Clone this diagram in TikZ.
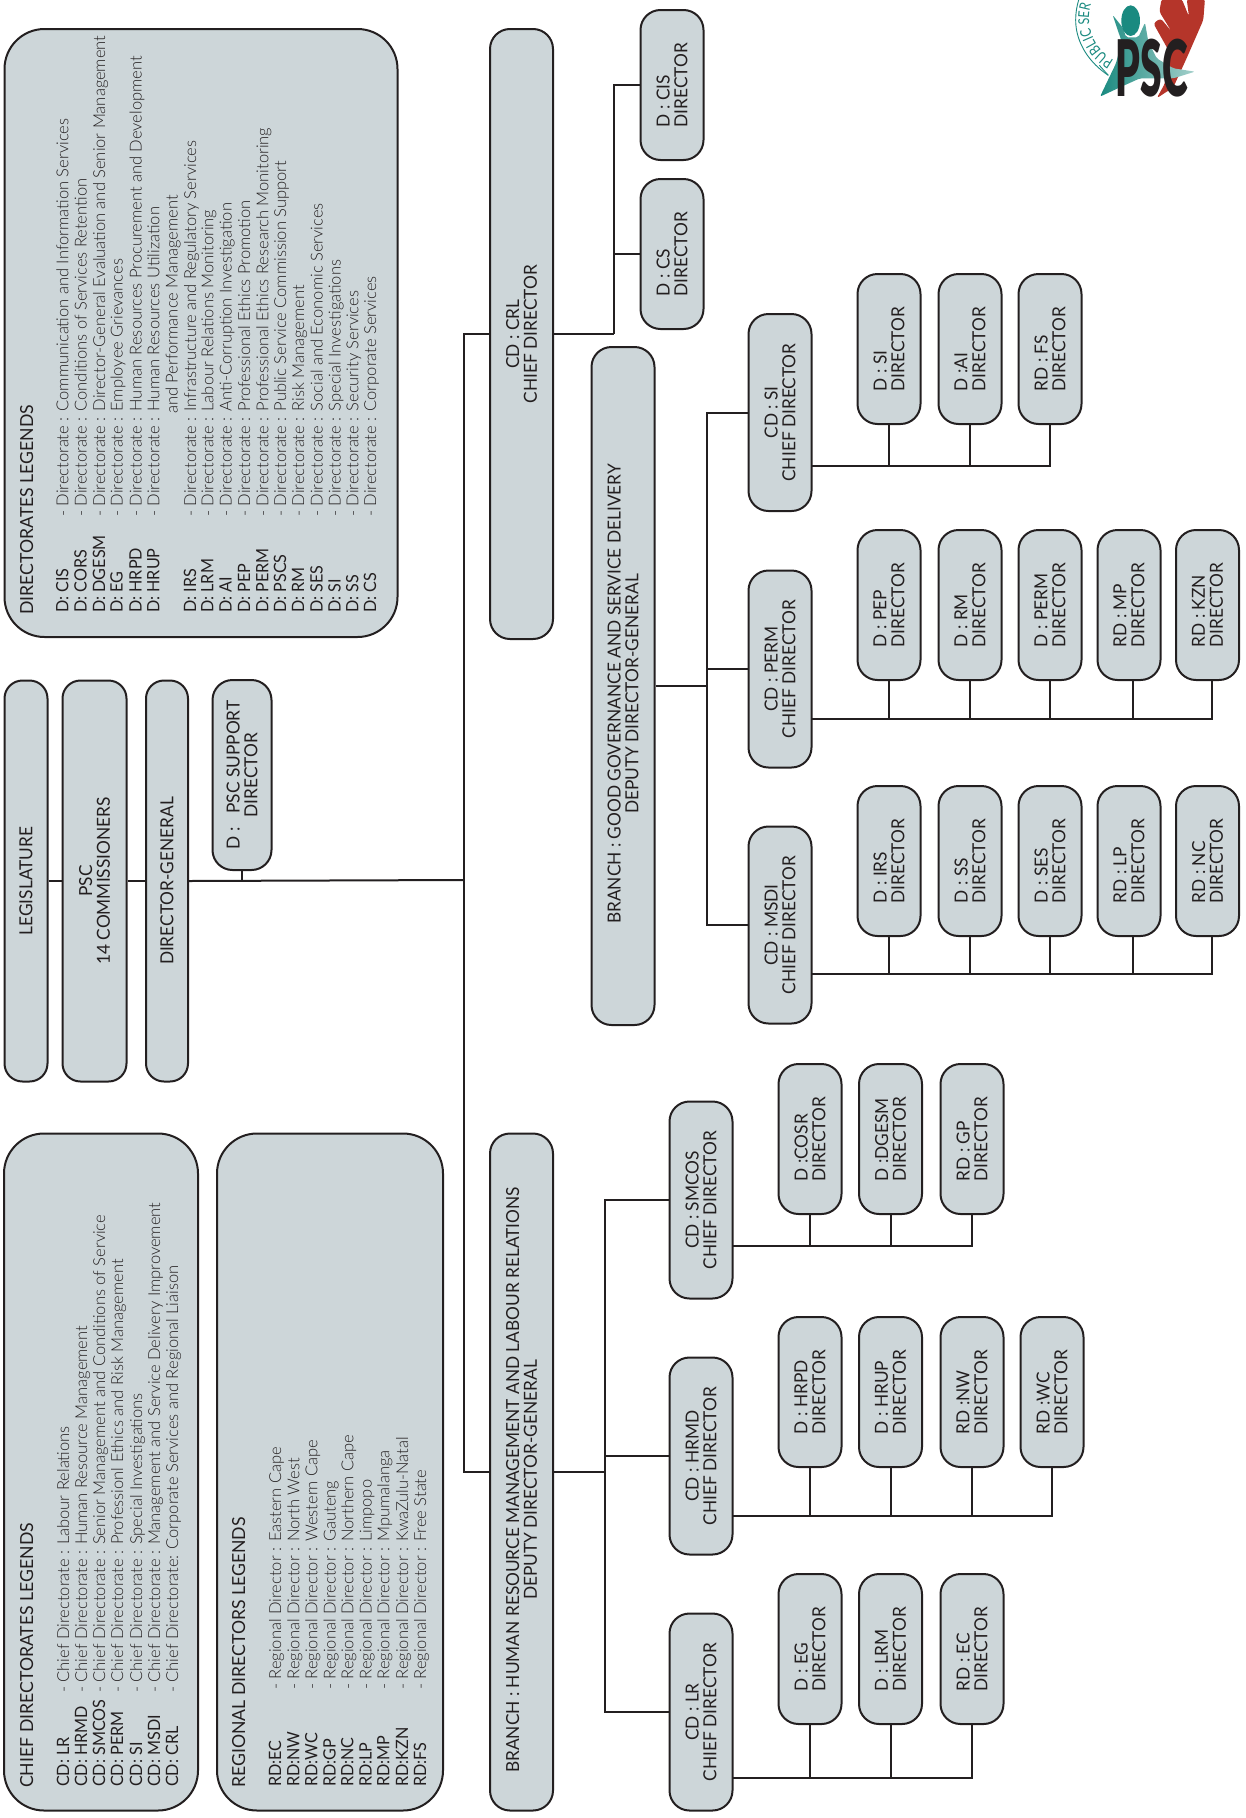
\documentclass[tikz,border=0pt]{standalone}
\usepackage{fontspec}
\usepackage{xcolor}
\usetikzlibrary{decorations.text}
\newfontfamily\boxface[FakeStretch=0.96]{Lato}
\newfontfamily\legface{Lato Light}
\newfontfamily\abface[FakeStretch=0.95]{Lato}
\newfontfamily\headface[FakeStretch=0.98]{Lato}
\newfontfamily\arcface[FakeStretch=0.8]{Lato}
\newfontfamily\logoface[FakeStretch=0.5]{Lato Black}
\definecolor{pgray}{HTML}{CDD6D9}
\definecolor{pline}{HTML}{231F20}
\definecolor{pteal}{HTML}{1A8A80}
\definecolor{ptealp}{HTML}{A5D0CB}
\definecolor{pred}{HTML}{B5352A}
\tikzset{
  % rotated boxes: minimum width runs along the text
  blk/.style    = {rectangle, draw=pline, fill=pgray, line width=2pt, rotate=90,
                   align=center, inner sep=0pt, text=pline,
                   font=\boxface\fontsize{18}{17.8}\selectfont},
  topbox/.style = {blk, rounded corners=18pt, minimum width=401pt, minimum height=#1},
  dirbox/.style = {blk, align=left, rounded corners=20pt, minimum width=150pt, minimum height=63pt},
  cdbox/.style  = {blk, rounded corners=20pt, minimum width=197pt, minimum height=63pt},
  brbox/.style  = {blk, rounded corners=20pt, minimum height=63pt},
  legbox/.style = {blk, rounded corners=40pt},
  leghd/.style  = {rotate=90, anchor=base west, inner sep=0pt, text=pline,
                   font=\headface\fontsize{18}{18}\selectfont},
  legab/.style  = {leghd, font=\abface\fontsize{17}{17}\selectfont},
  legtx/.style  = {rotate=90, anchor=base west, inner sep=0pt, text=pline,
                   font=\legface\fontsize{16.5}{17}\selectfont},
  conn/.style   = {draw=pline, line width=2pt},
}
\begin{document}
\begin{tikzpicture}[x=1pt,y=-1pt]
\useasboundingbox (0,0) rectangle (1246,1818);
% top of the chain
\node[topbox=43pt] (leg) at (26,881) {LEGISLATURE};
\node[topbox=64pt] (psc) at (94.5,881) {PSC\\14 COMMISSIONERS};
\node[topbox=42pt] (dg) at (167,881) {DIRECTOR-GENERAL};
\node[blk, rounded corners=20pt, minimum width=190pt, minimum height=59pt] (sup) at (242,775)
  {D :\hspace{14pt}PSC SUPPORT\\DIRECTOR};
\coordinate (trunk) at (463.5,880);
\draw[conn] (leg.south) -- (psc.north);
\draw[conn] (psc.south) -- (dg.north);
\draw[conn] (dg.south) -- (trunk);
\draw[conn] (sup.west) -- (sup.west |- trunk);
% branches
\node[brbox, minimum width=610pt] (crl) at (521.5,334) {CD : CRL\\CHIEF DIRECTOR};
\node[brbox, minimum width=678pt] (gg) at (623,686)
  {BRANCH : GOOD GOVERNANCE AND SERVICE DELIVERY\hspace*{16pt}\\DEPUTY DIRECTOR-GENERAL\hspace*{16pt}};
\node[brbox, minimum width=677pt] (hr) at (521.5,1472)
  {BRANCH : HUMAN RESOURCE MANAGEMENT AND LABOUR RELATIONS\hspace*{16pt}\\DEPUTY DIRECTOR-GENERAL\hspace*{16pt}};
\draw[conn] (crl.north) -| (trunk);
\draw[conn] (hr.north) -| (trunk);
% chief directors
\foreach \nm/\lbl/\xx/\yy in {cdsi/SI/780/412.5, cdperm/PERM/780/669, cdmsdi/MSDI/780/925,
    cdsmcos/SMCOS/701/1200, cdhrmd/HRMD/701/1456, cdlr/LR/701/1712}
  {\node[cdbox] (\nm) at (\xx,\yy) {CD : \lbl\\CHIEF DIRECTOR};}
% directors
\foreach \nm/\lbl/\xx/\yy in {dcis/D : CIS/672/85, dcs/D : CS/672/254,
    dsi/D : SI/889/349, dai/D :AI/970/349, rdfs/RD : FS/1050/349,
    dpep/D : PEP/889/605, drm/D : RM/970/605, dperm/D : PERM/1050/605, rdmp/RD : MP/1129/605, rdkzn/RD : KZN/1207.5/605,
    dirs/D : IRS/889/861, dss/D : SS/970/861, dses/D : SES/1050/861, rdlp/RD : LP/1129/861, rdnc/RD : NC/1207.5/861,
    dcosr/D :COSR/810/1139, ddgesm/D :DGESM/890.5/1139, rdgp/RD : GP/972/1139,
    dhrpd/D : HRPD/810/1392, dhrup/D : HRUP/890.5/1392, rdnw/RD :NW/972/1392, rdwc/RD :WC/1052/1392,
    deg/D : EG/810/1649, dlrm/D : LRM/890.5/1649, rdec/RD : EC/972/1649}
  {\node[dirbox] (\nm) at (\xx,\yy) {\lbl\\DIRECTOR};}
% spines
\coordinate (crlspine) at (614,334);
\coordinate (ggspine) at (707,686);
\coordinate (hrspine) at (605,1472);
\draw[conn] (crl.south) -- (crlspine);
\draw[conn] (gg.south) -- (ggspine);
\draw[conn] (hr.south) -- (hrspine);
\foreach \nm in {dcis,dcs} {\draw[conn] (\nm.north) -| (crlspine);}
\foreach \nm in {cdsi,cdperm,cdmsdi} {\draw[conn] (\nm.north) -| (ggspine);}
\foreach \nm in {cdsmcos,cdhrmd,cdlr} {\draw[conn] (\nm.north) -| (hrspine);}
% buses under the directors
\coordinate (sibus) at (811,465.7);
\coordinate (permbus) at (811,719);
\coordinate (msdibus) at (811,974);
\coordinate (smbus) at (732,1246);
\coordinate (hrmbus) at (732,1516);
\coordinate (lrbus) at (732,1778);
\draw[conn] (sibus) -| (rdfs.west);
\draw[conn] (permbus) -| ([xshift=4.5pt]rdkzn.west);
\draw[conn] (msdibus) -| ([xshift=4.5pt]rdnc.west);
\draw[conn] (smbus) -| (rdgp.west);
\draw[conn] (hrmbus) -| (rdwc.west);
\draw[conn] (lrbus) -| (rdec.west);
\draw[conn] ([xshift=4pt]rdmp.west) -- ([xshift=4pt]rdmp.west |- permbus);
\draw[conn] ([xshift=4pt]rdlp.west) -- ([xshift=4pt]rdlp.west |- msdibus);
\foreach \nm in {dsi,dai} {\draw[conn] (\nm.west) -- (\nm.west |- sibus);}
\foreach \nm in {dpep,drm,dperm} {\draw[conn] (\nm.west) -- (\nm.west |- permbus);}
\foreach \nm in {dirs,dss,dses} {\draw[conn] (\nm.west) -- (\nm.west |- msdibus);}
\foreach \nm in {dcosr,ddgesm} {\draw[conn] (\nm.west) -- (\nm.west |- smbus);}
\foreach \nm in {dhrpd,dhrup,rdnw} {\draw[conn] (\nm.west) -- (\nm.west |- hrmbus);}
\foreach \nm in {deg,dlrm} {\draw[conn] (\nm.west) -- (\nm.west |- lrbus);}
% directorates legend
\node[legbox, minimum width=608pt, minimum height=393pt] (dirleg) at (201,333) {};
\node[leghd] (dirhd) at (33,615) {DIRECTORATES LEGENDS};
\foreach \rx/\ab/\ds [count=\i] in {68.3/D: CIS/Communication and Information Services,
    86.7/D: CORS/Conditions of Services Retention,
    105/D: DGESM/Director-General Evaluation and Senior Management,
    122.7/D: EG/Employee Grievances,
    141.7/D: HRPD/Human Resources Procurement and Development,
    159.3/D: HRUP/Human Resources Utilization,
    196/D: IRS/Infrastructure and Regulatory Services,
    213.3/D: LRM/Labour Relations Monitoring,
    231.7/D: AI/Anti-Corruption Investigation,
    250/D: PEP/Professional Ethics Promotion,
    268.3/D: PERM/Professional Ethics Research Monitoring,
    286/D: PSCS/Public Service Commission Support,
    304/D: RM/Risk Management,
    322.7/D: SES/Social and Economic Services,
    340.7/D: SI/Special Investigations,
    358.3/D: SS/Security Services,
    376/D: CS/Corporate Services}
  {\node[legab] (dab\i) at (\rx,613) {\ab};
   \node[legtx] (dtx\i) at (\rx,517) {- Directorate : \ds};}
\node[legtx] (dtxmore) at (177.7,414) {and Performance Management};
% chief directorates legend
\node[legbox, minimum width=677pt, minimum height=194pt] (cdleg) at (101,1472) {};
\node[leghd] (cdhd) at (33,1788) {CHIEF DIRECTORATES LEGENDS};
\foreach \rx/\ab/\ds [count=\i] in {69/CD: LR/- Chief Directorate : Labour Relations,
    87/CD: HRMD/- Chief Directorate : Human Resource Management,
    105/CD: SMCOS/- Chief Directorate : Senior Management and Conditions of Service,
    123/CD: PERM/- Chief Directorate : Professionl Ethics and Risk Management,
    142/CD: SI/- Chief Directorate : Special Investigations,
    160/CD: MSDI/- Chief Directorate : Management and Service Delivery Improvement,
    178/CD: CRL/- Chief Directorate: Corporate Services and Regional Liaison}
  {\node[legab] (cab\i) at (\rx,1787) {\ab};
   \node[legtx] (ctx\i) at (\rx,1693) {\ds};}
% regional directors legend
\node[legbox, minimum width=677pt, minimum height=226pt] (rdleg) at (330,1472) {};
\node[leghd] (rdhd) at (245,1788) {REGIONAL DIRECTORS LEGENDS};
\foreach \rx/\ab/\ds [count=\i] in {281/RD:EC/Eastern Cape, 299.3/RD:NW/North West,
    317.3/RD:WC/Western Cape, 335.7/RD:GP/Gauteng, 353.3/RD:NC/Northern Cape,
    371.7/RD:LP/Limpopo, 389.3/RD:MP/Mpumalanga, 408/RD:KZN/KwaZulu-Natal, 426/RD:FS/Free State}
  {\node[legab] (rab\i) at (\rx,1787) {\ab};
   \node[legtx] (rtx\i) at (\rx,1690) {- Regional Director : \ds};}
% logo
\begin{scope}[shift={(1040,0)},x=0.3333pt,y=-0.3333pt]
\draw[pteal, line width=0.9pt] (205,226) .. controls (150,190) and (107,130) .. (107,60) .. controls (107,40) and (110,20) .. (116,0);
\draw[pteal, line width=0.9pt] (205,226) -- (178,196);
\fill[pred, rounded corners=3pt] (365,-4) -- (358,35) -- (395,95) -- (362,55) -- (340,70) -- (385,150)
  -- (375,250) -- (350,295) -- (400,262) -- (442,170) -- (490,60) -- (495,-4) -- (440,-4) -- (447,50) -- (425,-4) -- cycle;
\shade[left color=pteal, right color=ptealp, rounded corners=2pt] (218,45) -- (250,85) -- (258,112) -- (295,112) -- (315,68) -- (325,125)
  -- (350,175) -- (400,205) -- (465,215) -- (400,235) -- (300,235) -- (240,262) -- (180,290) -- (228,190) -- (245,125) -- cycle;
\fill[pteal] (272,62) ellipse [x radius=28, y radius=46];
\node[inner sep=0pt, text=pline, font=\logoface\fontsize{78}{78}\selectfont] (psclogo) at (335,203) {PSC};
\end{scope}
\path[decorate, decoration={text along path, text align=left,
    text={|\arcface\fontsize{15}{15}\selectfont\color{pteal}|PUBLIC SER}}]
  (1114,60) arc[start angle=118, end angle=228, radius=47];
\end{tikzpicture}
\end{document}
